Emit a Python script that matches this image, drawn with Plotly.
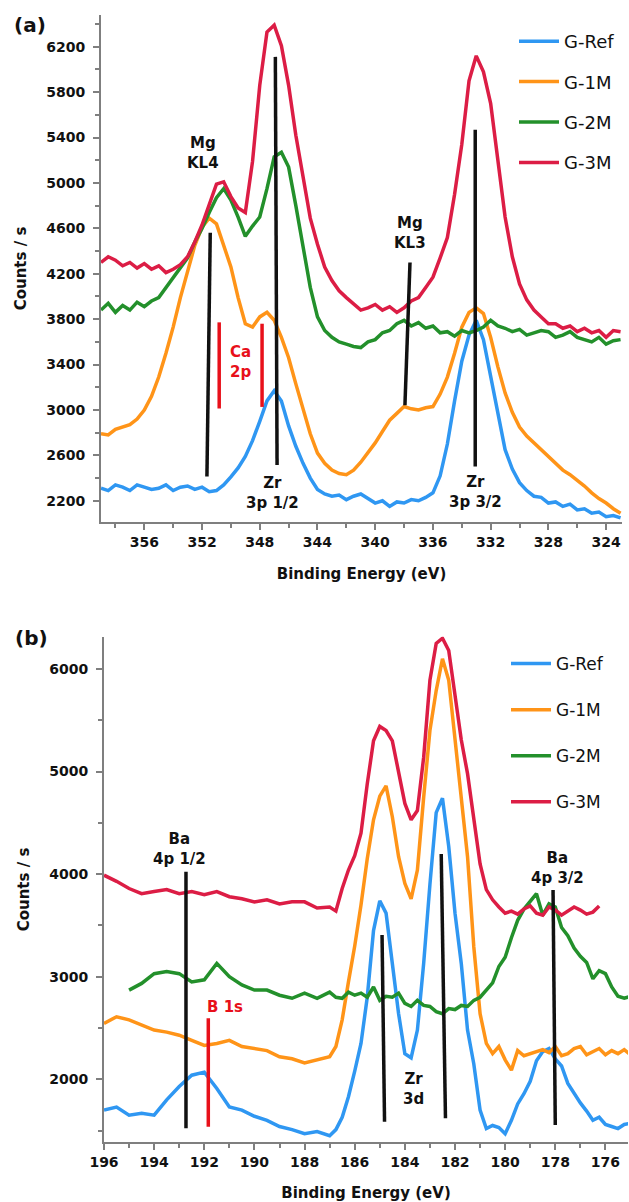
import plotly.graph_objects as go

# ---------------- Panel (a): Zr 3p / Mg KLL region ----------------
be_a = [359, 358.5, 358, 357.5, 357, 356.5, 356, 355.5, 355, 354.5, 354, 353.5, 353, 352.5, 352, 351.5,
        351, 350.5, 350, 349.5, 349, 348.5, 348, 347.5, 347, 346.5, 346, 345.5, 345, 344.5, 344, 343.5,
        343, 342.5, 342, 341.5, 341, 340.5, 340, 339.5, 339, 338.5, 338, 337.5, 337, 336.5, 336, 335.5,
        335, 334.5, 334, 333.5, 333, 332.5, 332, 331.5, 331, 330.5, 330, 329.5, 329, 328.5, 328, 327.5,
        327, 326.5, 326, 325.5, 325, 324.5, 324, 323.5, 323]

gref_a = [2310, 2290, 2340, 2320, 2290, 2340, 2320, 2300, 2310, 2340, 2290, 2320, 2330, 2300, 2320, 2280,
          2290, 2340, 2410, 2490, 2590, 2730, 2900, 3080, 3170, 3080, 2860, 2680, 2530, 2400, 2300, 2260,
          2240, 2250, 2210, 2240, 2260, 2220, 2180, 2200, 2150, 2190, 2180, 2210, 2200, 2230, 2270, 2420,
          2700, 3080, 3430, 3660, 3790, 3620, 3290, 2950, 2650, 2480, 2360, 2290, 2240, 2230, 2180, 2190,
          2150, 2170, 2120, 2130, 2090, 2100, 2060, 2070, 2050]

g1m_a = [2790, 2780, 2830, 2850, 2870, 2920, 3000, 3120, 3290, 3500, 3730, 3990, 4230, 4450, 4610, 4690,
         4640, 4460, 4260, 3990, 3760, 3730, 3820, 3860, 3790, 3640, 3460, 3230, 3000, 2790, 2620, 2530,
         2470, 2440, 2430, 2470, 2540, 2620, 2710, 2810, 2910, 2970, 3030, 3010, 3000, 3020, 3030, 3140,
         3290, 3500, 3730, 3860, 3900, 3850, 3640, 3380, 3150, 2980, 2850, 2770, 2710, 2640, 2590, 2530,
         2470, 2430, 2380, 2330, 2270, 2220, 2180, 2130, 2090]

g2m_a = [3880, 3940, 3860, 3920, 3880, 3950, 3910, 3960, 3990, 4080, 4170, 4250, 4340, 4480, 4600, 4740,
         4870, 4950, 4850, 4700, 4530, 4620, 4700, 4950, 5230, 5270, 5140, 4800, 4460, 4080, 3820, 3700,
         3640, 3600, 3580, 3560, 3550, 3600, 3620, 3680, 3700, 3760, 3790, 3740, 3770, 3720, 3740, 3680,
         3690, 3650, 3700, 3680, 3700, 3730, 3790, 3740, 3720, 3690, 3710, 3660, 3680, 3700, 3690, 3640,
         3660, 3690, 3640, 3620, 3600, 3640, 3580, 3610, 3620]

g3m_a = [4300, 4350, 4320, 4270, 4300, 4250, 4290, 4240, 4270, 4210, 4240, 4280, 4350, 4480, 4630, 4820,
         4990, 5010, 4880, 4780, 4740, 5190, 5860, 6330, 6390, 6210, 5860, 5420, 5040, 4690, 4460, 4260,
         4140, 4050, 3990, 3930, 3880, 3900, 3930, 3880, 3910, 3860, 3900, 3960, 3990, 4080, 4170, 4340,
         4520, 4900, 5340, 5900, 6120, 5980, 5700, 5200, 4700, 4350, 4110, 3970, 3880, 3820, 3760, 3760,
         3720, 3740, 3690, 3720, 3680, 3700, 3640, 3700, 3690]

# ---------------- Panel (b): Zr 3d / Ba 4p region ----------------
be_b = [196, 195.5, 195, 194.5, 194, 193.5, 193, 192.5, 192, 191.5, 191, 190.5, 190, 189.5, 189, 188.5,
        188, 187.5,
        187, 186.75, 186.5, 186.25, 186, 185.75, 185.5, 185.25, 185,
        184.75, 184.5, 184.25, 184, 183.75, 183.5, 183.25, 183, 182.75, 182.5, 182.25, 182, 181.75, 181.5,
        181.25, 181, 180.75, 180.5, 180.25, 180,
        179.75, 179.5, 179.25, 179, 178.75, 178.5, 178.25, 178, 177.75, 177.5, 177.25, 177, 176.75, 176.5,
        176.25, 176, 175.75, 175.5, 175.25, 175]

gref_b = [1700, 1730, 1650, 1670, 1650, 1800, 1930, 2040, 2070, 1910, 1730, 1700, 1640, 1600, 1540, 1510,
          1470, 1490,
          1450, 1510, 1630, 1830, 2080, 2350, 2800, 3450, 3740,
          3620, 3130, 2640, 2250, 2210, 2480, 3130, 3900, 4600, 4740, 4270, 3620, 3130, 2480,
          2150, 1700, 1520, 1550, 1530, 1470,
          1600, 1760, 1860, 1980, 2180, 2270, 2300, 2200, 2130, 1960, 1860, 1770, 1690, 1600,
          1630, 1560, 1540, 1520, 1560, 1570]

g1m_b = [2545, 2610, 2580, 2530, 2480, 2460, 2430, 2380, 2330, 2350, 2380, 2320, 2300, 2280, 2220, 2200,
         2160, 2190,
         2220, 2320, 2580, 2950, 3300, 3700, 4150, 4530, 4760,
         4860, 4560, 4170, 3910, 3760, 4040, 4750, 5400, 5790, 6100, 5890, 5310, 4750, 4170,
         3290, 2640, 2350, 2250, 2320, 2190,
         2090, 2280, 2230, 2250, 2270, 2290, 2260, 2320, 2230, 2250, 2300, 2320, 2240, 2270,
         2300, 2240, 2280, 2250, 2290, 2240]

g2m_b = [None, None, 2870, 2935, 3030, 3050, 3030, 2950, 2970, 3130, 3000, 2920, 2870, 2870, 2820, 2790,
         2840, 2790,
         2850, 2800, 2790, 2850, 2820, 2840, 2800, 2900, 2770,
         2810, 2800, 2840, 2740, 2710, 2770, 2720, 2710, 2660, 2640, 2690, 2680, 2720, 2710,
         2770, 2800, 2870, 2940, 3100, 3190,
         3380, 3550, 3660, 3740, 3810, 3600, 3710, 3680, 3480, 3400, 3280, 3200, 3140, 2980,
         3060, 3030, 2900, 2810, 2790, 2810]

g3m_b = [3990, 3930, 3860, 3810, 3830, 3850, 3810, 3830, 3800, 3830, 3780, 3760, 3730, 3750, 3710, 3730,
         3730, 3670,
         3680, 3640, 3860, 4040, 4180, 4400, 4880, 5300, 5440,
         5400, 5300, 5010, 4690, 4530, 4620, 5140, 5890, 6250, 6300, 6180, 5730, 5310, 4980,
         4560, 4100, 3850, 3750, 3680, 3620,
         3640, 3610, 3660, 3690, 3620, 3600, 3680, 3650, 3600, 3640, 3680, 3650, 3610, 3630,
         3690, None, None, None, None, None]

series_names = ["G-Ref", "G-1M", "G-2M", "G-3M"]

# peak-assignment markers: (x_top, y_top, x_bottom, y_bottom, colour)
marks_a = [(351.43, 4562, 351.66, 2413, "black"),
           (346.92, 6111, 346.80, 2516, "black"),
           (337.59, 4299, 337.94, 3042, "black"),
           (333.07, 5468, 333.07, 2501, "black"),
           (350.81, 3772, 350.81, 3013, "red"),
           (347.84, 3760, 347.84, 3027, "red")]
labels_a = [(351.9, 5261, "Mg<br>KL4", "black"),
            (349.35, 3422, "Ca<br>2p", "red"),
            (347.15, 2270, "Zr<br>3p 1/2", "black"),
            (337.59, 4555, "Mg<br>KL3", "black"),
            (333.03, 2274, "Zr<br>3p 3/2", "black")]
marks_b = [(192.73, 4023, 192.73, 1522, "black"),
           (191.84, 2595, 191.84, 1538, "red"),
           (184.91, 3407, 184.81, 1587, "black"),
           (182.55, 4196, 182.38, 1620, "black"),
           (178.09, 3845, 178.00, 1555, "black")]
labels_b = [(192.97, 4247, "Ba<br>4p 1/2", "black"),
            (191.17, 2708, "B 1s", "red"),
            (183.66, 1905, "Zr<br>3d", "black"),
            (177.93, 4064, "Ba<br>4p 3/2", "black")]

colors = ["#2f97f2", "#ff9418", "#23902b", "#dc1d45"]
ink = {"black": "#111111", "red": "#e8101a"}
FONT = "DejaVu Sans"

fig = go.Figure()
for name, col, ys in zip(series_names, colors, [gref_a, g1m_a, g2m_a, g3m_a]):
    fig.add_trace(go.Scatter(x=be_a, y=ys, mode="lines", name=name,
                             line=dict(color=col, width=3.5), xaxis="x", yaxis="y",
                             legend="legend", legendgroup="a" + name))
for name, col, ys in zip(series_names, colors, [gref_b, g1m_b, g2m_b, g3m_b]):
    fig.add_trace(go.Scatter(x=be_b, y=ys, mode="lines", name=name,
                             line=dict(color=col, width=3.5), xaxis="x2", yaxis="y2",
                             legend="legend2", legendgroup="b" + name))

for (xa, ya, xb, yb, c) in marks_a:
    fig.add_shape(type="line", xref="x", yref="y", x0=xa, y0=ya, x1=xb, y1=yb,
                  line=dict(color=ink[c], width=3.5))
for (xa, ya, xb, yb, c) in marks_b:
    fig.add_shape(type="line", xref="x2", yref="y2", x0=xa, y0=ya, x1=xb, y1=yb,
                  line=dict(color=ink[c], width=3.5))
for (x, y, t, c) in labels_a:
    fig.add_annotation(x=x, y=y, xref="x", yref="y", text=t, showarrow=False,
                       font=dict(family=FONT, size=15, color=ink[c], weight="bold"))
for (x, y, t, c) in labels_b:
    fig.add_annotation(x=x, y=y, xref="x2", yref="y2", text=t, showarrow=False,
                       font=dict(family=FONT, size=15, color=ink[c], weight="bold"))

fig.add_annotation(x=30 / 629, y=1 - 25 / 1202, xref="paper", yref="paper", text="(a)",
                   xanchor="center", yanchor="middle", showarrow=False,
                   font=dict(family=FONT, size=20, color="#111", weight="bold"))
fig.add_annotation(x=31 / 629, y=1 - 638 / 1202, xref="paper", yref="paper", text="(b)",
                   xanchor="center", yanchor="middle", showarrow=False,
                   font=dict(family=FONT, size=20, color="#111", weight="bold"))

tickfont = dict(family=FONT, size=14, color="#111111", weight="bold")
titlefont = dict(family=FONT, size=15, color="#111111", weight="bold")
axis_common = dict(showline=True, linecolor="#7f7f7f", linewidth=2, ticks="outside", ticklen=6,
                   tickwidth=1.5, tickcolor="#7f7f7f", showgrid=False, zeroline=False,
                   tickfont=tickfont, automargin=False)

fig.update_layout(
    width=629, height=1202, margin=dict(l=0, r=0, t=0, b=0, autoexpand=False),
    paper_bgcolor="white", plot_bgcolor="white",
    xaxis=dict(domain=[101 / 629, 622 / 629], anchor="y", range=[359, 322.9], tick0=324, dtick=4,
               minor=dict(tick0=324, dtick=2, ticks="outside", ticklen=4, tickcolor="#7f7f7f"),
               title=dict(text="Binding Energy (eV)", font=titlefont, standoff=20), **axis_common),
    yaxis=dict(domain=[1 - 522 / 1202, 1 - 15 / 1202], anchor="x", range=[2013, 6480], tick0=2200,
               dtick=400, minor=dict(tick0=2200, dtick=200, ticks="outside", ticklen=4, tickcolor="#7f7f7f"),
               ticklabelstandoff=5,
               title=dict(text="Counts / s", font=titlefont, standoff=16), **axis_common),
    xaxis2=dict(domain=[104 / 629, 628 / 629], anchor="y2", range=[196, 175.1], tick0=176, dtick=2,
                minor=dict(tick0=176, dtick=1, ticks="outside", ticklen=4, tickcolor="#7f7f7f"),
                title=dict(text="Binding Energy (eV)", font=titlefont, standoff=20), **axis_common),
    yaxis2=dict(domain=[1 - 1142.3 / 1202, 1 - 636.7 / 1202], anchor="x2", range=[1386, 6315], tick0=2000,
                dtick=1000, minor=dict(tick0=2000, dtick=500, ticks="outside", ticklen=4, tickcolor="#7f7f7f"),
                ticklabelstandoff=5,
                title=dict(text="Counts / s", font=titlefont, standoff=16), **axis_common),
    legend=dict(x=514 / 629, y=1 - 23 / 1202, xanchor="left", yanchor="top", tracegroupgap=14,
                font=dict(family=FONT, size=18, color="#111111"), bgcolor="rgba(0,0,0,0)", itemwidth=40),
    legend2=dict(x=506 / 629, y=1 - 646 / 1202, xanchor="left", yanchor="top", tracegroupgap=21,
                 font=dict(family=FONT, size=17, color="#111111"), bgcolor="rgba(0,0,0,0)", itemwidth=40),
    showlegend=True,
)

fig.write_html("out.html")
